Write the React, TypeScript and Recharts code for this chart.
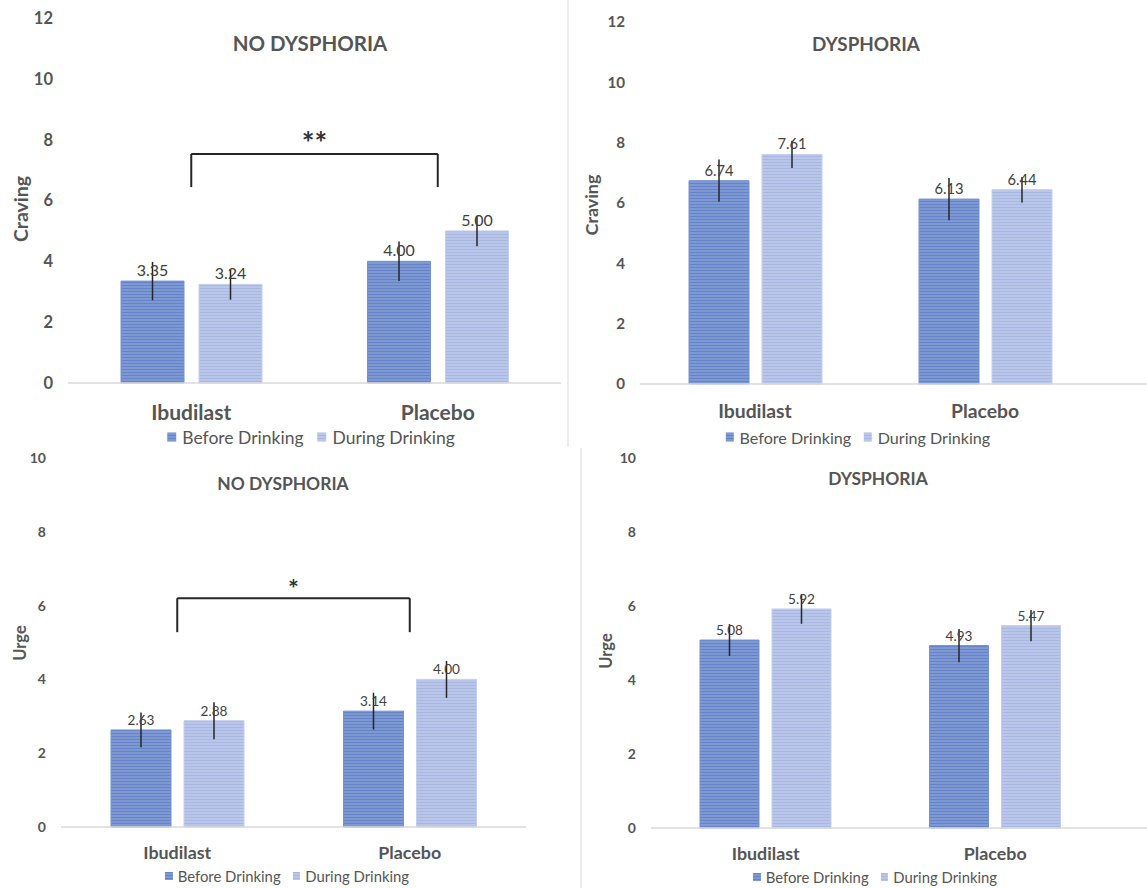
import React from "react"
import { BarChart, Bar, XAxis, YAxis, ErrorBar, LabelList, ReferenceLine } from "recharts"

const categories = ["Ibudilast", "Placebo"]

// craving
const cravingNoBefore = [3.35, 4.0]
const cravingNoDuring = [3.24, 5.0]
const cravingNoBeforeErr = [0.63, 0.65]
const cravingNoDuringErr = [0.5, 0.5]

const cravingDysBefore = [6.74, 6.13]
const cravingDysDuring = [7.61, 6.44]
const cravingDysBeforeErr = [0.7, 0.7]
const cravingDysDuringErr = [0.45, 0.42]

// urge
const urgeNoBefore = [2.63, 3.14]
const urgeNoDuring = [2.88, 4.0]
const urgeNoBeforeErr = [0.47, 0.5]
const urgeNoDuringErr = [0.5, 0.5]

const urgeDysBefore = [5.08, 4.93]
const urgeDysDuring = [5.92, 5.47]
const urgeDysBeforeErr = [0.43, 0.45]
const urgeDysDuringErr = [0.4, 0.42]

const cravingTicks = [0, 2, 4, 6, 8, 10, 12]
const urgeTicks = [0, 2, 4, 6, 8, 10]

const FONT = "Lato, 'Open Sans', sans-serif"
const GREY = "#555555"

const rows = (b: number[], d: number[], be: number[], de: number[]) =>
  categories.map((name, i) => ({ name, before: b[i], during: d[i], errBefore: be[i], errDuring: de[i] }))

const fmt = (v: any) => Number(v).toFixed(2)

type PanelCfg = {
  id: string
  left: number; top: number; width: number; height: number
  margin: { top: number; right: number; bottom: number; left: number }
  padRight: number
  yMax: number
  ticks: number[]
  data: any[]
  title: string; titleX: number; titleY: number
  yLabel: string; yLabelX: number; yLabelY: number
  legendX: number; legendY: number
  s: number
  barSize: number; barGap: number
  bracket?: { top: number; leg: number; stars: string }
}

function Panel({ c }: { c: PanelCfg }) {
  const s = c.s
  return (
    <>
      <div style={{ position: "absolute", left: c.left, top: c.top }}>
        <BarChart width={c.width} height={c.height} data={c.data} margin={c.margin} barGap={c.barGap}>
          <defs>
            <pattern id={`${c.id}-b`} width="4" height="3" patternUnits="userSpaceOnUse">
              <rect width="4" height="3" fill="#7d98d2" />
              <rect width="4" height="1" fill="#6484c7" />
            </pattern>
            <pattern id={`${c.id}-d`} width="4" height="3" patternUnits="userSpaceOnUse">
              <rect width="4" height="3" fill="#b9c6e9" />
              <rect width="4" height="1" fill="#a8b8e2" />
            </pattern>
          </defs>
          <XAxis
            dataKey="name"
            height={40}
            padding={{ left: 0, right: c.padRight }}
            axisLine={{ stroke: "#d9d9d9", strokeWidth: 1.5 }}
            tickLine={false}
            tickSize={0}
            tickMargin={Math.round(22 * s)}
            tick={{ fontSize: 21 * s, fontWeight: 700, fill: GREY, fontFamily: FONT }}
          />
          <YAxis
            type="number"
            domain={[0, c.yMax]}
            ticks={c.ticks}
            width={50}
            axisLine={false}
            tickLine={false}
            tickSize={0}
            tickMargin={15}
            tick={{ fontSize: 16.5 * s, fontWeight: 700, fill: GREY, fontFamily: FONT }}
          />
          <Bar dataKey="before" barSize={c.barSize} fill={`url(#${c.id}-b)`} stroke="#7392cf" strokeWidth={1} isAnimationActive={false}>
            <LabelList dataKey="before" position="top" offset={5} formatter={fmt}
              style={{ fontSize: 16 * s, fill: "#404040", fontFamily: FONT }} />
            <ErrorBar dataKey="errBefore" width={0} stroke="#262626" strokeWidth={1.5} direction="y" />
          </Bar>
          <Bar dataKey="during" barSize={c.barSize} fill={`url(#${c.id}-d)`} stroke="#c3cfee" strokeWidth={1} isAnimationActive={false}>
            <LabelList dataKey="during" position="top" offset={5} formatter={fmt}
              style={{ fontSize: 16 * s, fill: "#404040", fontFamily: FONT }} />
            <ErrorBar dataKey="errDuring" width={0} stroke="#262626" strokeWidth={1.5} direction="y" />
          </Bar>
          {c.bracket && (
            <ReferenceLine
              segment={[{ x: categories[0], y: c.bracket.top }, { x: categories[1], y: c.bracket.top }]}
              stroke="#262626" strokeWidth={2}
              label={{ value: c.bracket.stars, position: "top", offset: 0, fontSize: 30 * s, fontWeight: 700, fill: "#333333", fontFamily: FONT }}
            />
          )}
          {c.bracket && (
            <ReferenceLine
              segment={[{ x: categories[0], y: c.bracket.top }, { x: categories[0], y: c.bracket.leg }]}
              stroke="#262626" strokeWidth={2}
            />
          )}
          {c.bracket && (
            <ReferenceLine
              segment={[{ x: categories[1], y: c.bracket.top }, { x: categories[1], y: c.bracket.leg }]}
              stroke="#262626" strokeWidth={2}
            />
          )}
        </BarChart>
      </div>
      <div style={{
        position: "absolute", left: c.titleX, top: c.titleY, transform: "translate(-50%, -50%)",
        fontSize: 20.5 * s, fontWeight: 700, color: GREY, whiteSpace: "nowrap",
      }}>{c.title}</div>
      <div style={{
        position: "absolute", left: c.yLabelX, top: c.yLabelY, transform: "translate(-50%, -50%) rotate(-90deg)",
        fontSize: 19.5 * s, fontWeight: 700, color: GREY, whiteSpace: "nowrap",
      }}>{c.yLabel}</div>
      <div style={{
        position: "absolute", left: c.legendX, top: c.legendY, transform: "translate(-50%, -50%)",
        display: "flex", alignItems: "center", gap: 14 * s, fontSize: 17.5 * s, color: GREY, whiteSpace: "nowrap",
      }}>
        <span style={{ display: "flex", alignItems: "center", gap: 6 * s }}>
          <span style={{ width: 9 * s, height: 9 * s, background: "repeating-linear-gradient(#6484c7 0 1px, #7d98d2 1px 3px)" }} />
          Before Drinking
        </span>
        <span style={{ display: "flex", alignItems: "center", gap: 6 * s }}>
          <span style={{ width: 9 * s, height: 9 * s, background: "repeating-linear-gradient(#a8b8e2 0 1px, #b9c6e9 1px 3px)" }} />
          During Drinking
        </span>
      </div>
    </>
  )
}

const panels: PanelCfg[] = [
  {
    id: "p1", left: 0, top: 0, width: 567, height: 447,
    margin: { top: 18, right: 6, bottom: 24, left: 18 }, padRight: 0,
    yMax: 12, ticks: cravingTicks,
    data: rows(cravingNoBefore, cravingNoDuring, cravingNoBeforeErr, cravingNoDuringErr),
    title: "NO DYSPHORIA", titleX: 310, titleY: 43,
    yLabel: "Craving", yLabelX: 20, yLabelY: 209,
    legendX: 311, legendY: 437, s: 1, barSize: 63, barGap: 15,
    bracket: { top: 7.53, leg: 6.44, stars: "**" },
  },
  {
    id: "p2", left: 568, top: 0, width: 579, height: 447,
    margin: { top: 22, right: 0, bottom: 23, left: 22 }, padRight: 47,
    yMax: 12, ticks: cravingTicks,
    data: rows(cravingDysBefore, cravingDysDuring, cravingDysBeforeErr, cravingDysDuringErr),
    title: "DYSPHORIA", titleX: 866, titleY: 43,
    yLabel: "Craving", yLabelX: 591, yLabelY: 205,
    legendX: 858, legendY: 437, s: 0.92, barSize: 60, barGap: 13,
  },
  {
    id: "p3", left: 0, top: 448, width: 581, height: 440,
    margin: { top: 10, right: 55, bottom: 21, left: 11 }, padRight: 0,
    yMax: 10, ticks: urgeTicks,
    data: rows(urgeNoBefore, urgeNoDuring, urgeNoBeforeErr, urgeNoDuringErr),
    title: "NO DYSPHORIA", titleX: 283, titleY: 483,
    yLabel: "Urge", yLabelX: 20, yLabelY: 643,
    legendX: 287, legendY: 876, s: 0.85, barSize: 60, barGap: 13,
    bracket: { top: 6.2, leg: 5.28, stars: "*" },
  },
  {
    id: "p4", left: 582, top: 448, width: 565, height: 440,
    margin: { top: 10, right: 0, bottom: 20, left: 19 }, padRight: 37,
    yMax: 10, ticks: urgeTicks,
    data: rows(urgeDysBefore, urgeDysDuring, urgeDysBeforeErr, urgeDysDuringErr),
    title: "DYSPHORIA", titleX: 878, titleY: 478,
    yLabel: "Urge", yLabelX: 606, yLabelY: 651,
    legendX: 875, legendY: 877, s: 0.85, barSize: 59, barGap: 13,
  },
]

export default function App() {
  return (
    <div style={{ position: "absolute", left: 0, top: 0, width: 1147, height: 888, background: "#fff", fontFamily: FONT, overflow: "hidden" }}>
      <div style={{ position: "absolute", left: 567, top: 0, width: 2, height: 447, background: "#ececec" }} />
      <div style={{ position: "absolute", left: 580, top: 448, width: 2, height: 440, background: "#ececec" }} />
      {panels.map(p => <Panel key={p.id} c={p} />)}
    </div>
  )
}
